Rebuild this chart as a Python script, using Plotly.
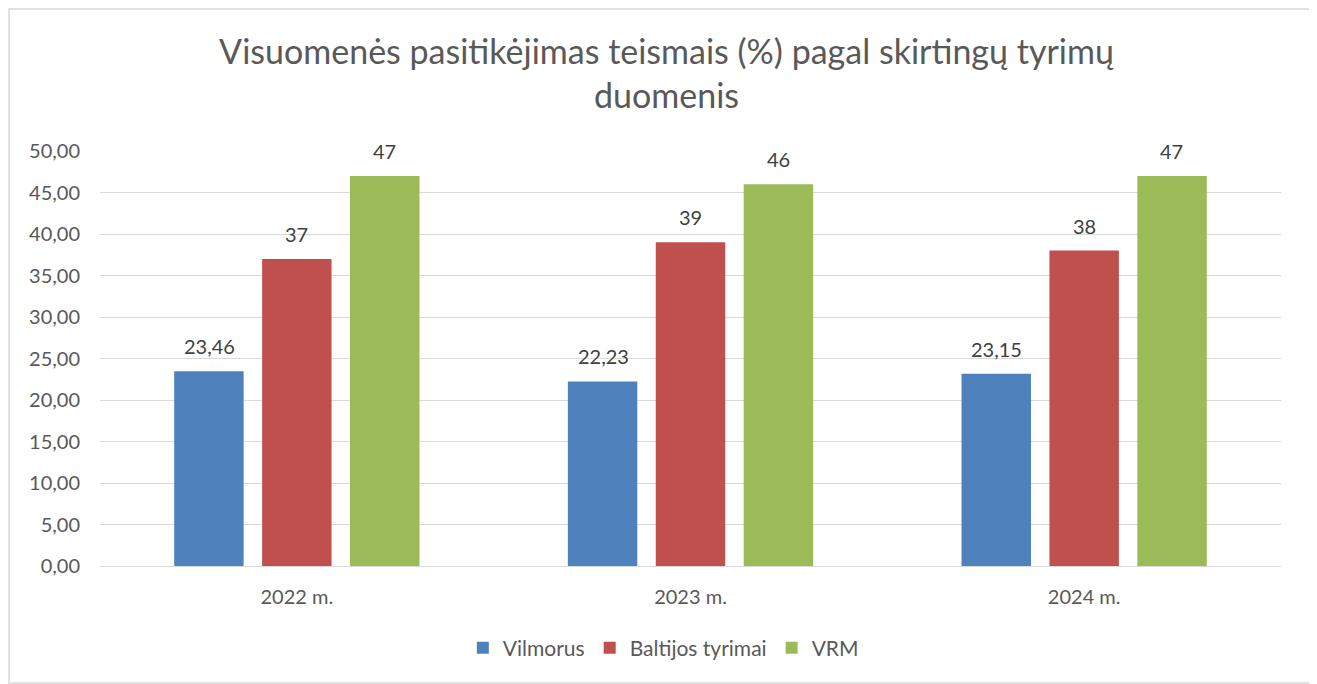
import plotly.graph_objects as go

categories = ["2022 m.", "2023 m.", "2024 m."]
series_names = ["Vilmorus", "Baltijos tyrimai", "VRM"]
vilmorus = [23.46, 22.23, 23.15]
baltijos = [37, 39, 38]
vrm = [47, 46, 47]
colors = ["#4F81BD", "#C0504D", "#9BBB59"]
y_ticks = [0, 5, 10, 15, 20, 25, 30, 35, 40, 45, 50]

FONT = "Lato"
TXT = "#595959"

def fmt(v):
    return f"{v:g}".replace(".", ",")

fig = go.Figure()
all_series = [vilmorus, baltijos, vrm]
for name, vals, col in zip(series_names, all_series, colors):
    fig.add_trace(go.Bar(name=name, x=categories, y=vals, marker=dict(color=col, line=dict(width=0))))

offsets = [-87.5, 0, 87.5]
for vals, off in zip(all_series, offsets):
    for c, v in zip(categories, vals):
        fig.add_annotation(x=c, y=v, text=fmt(v), showarrow=False, xshift=off,
                           yanchor="bottom", yshift=11,
                           font=dict(family=FONT, size=20, color="#404040"))

# plot area in figure px: left 92, right 1273, top 143, bottom 558
PW, PH = 1181, 415
fig.add_shape(type="rect", xref="paper", yref="paper",
              x0=(1-92)/PW, x1=(1303-92)/PW, y0=(558-675)/PH, y1=(558-1)/PH,
              line=dict(color="#d9d9d9", width=1.5), layer="below")

fig.update_layout(
    width=1317, height=684,
    margin=dict(l=92, r=44, t=143, b=126),
    paper_bgcolor="white", plot_bgcolor="white",
    separators=",.",
    barmode="group", bargap=0.33, bargroupgap=0.21,
    title=dict(text="Visuomenės pasitikėjimas teismais (%) pagal skirtingų tyrimų<br>duomenis",
               x=0.5, xanchor="center", y=1-56/684, yanchor="middle",
               font=dict(family=FONT, size=34, color=TXT)),
    font=dict(family=FONT, color=TXT),
    legend=dict(orientation="h", x=0.477, xanchor="center", y=-0.198, yanchor="middle",
                font=dict(family=FONT, size=21, color=TXT), traceorder="normal",
                itemwidth=30),
    showlegend=True,
)
fig.update_yaxes(range=[0, 50], tickvals=y_ticks, tickformat=".2f",
                 showgrid=True, gridcolor="#d9d9d9", gridwidth=1,
                 zeroline=True, zerolinecolor="#d9d9d9", zerolinewidth=1,
                 showline=False, ticks="", ticklabelstandoff=19,
                 tickfont=dict(family=FONT, size=20, color=TXT))
fig.update_xaxes(showline=False, ticks="", ticklabelstandoff=17,
                 tickfont=dict(family=FONT, size=20, color=TXT))

fig.write_html("out.html")
